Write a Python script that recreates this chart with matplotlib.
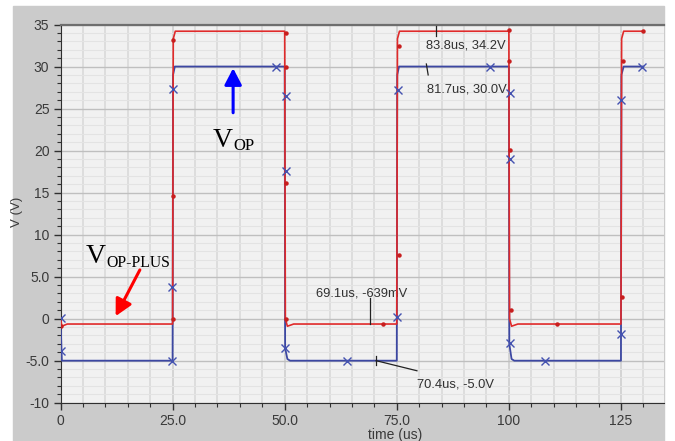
import matplotlib.pyplot as plt
from matplotlib.patches import Rectangle
from matplotlib.ticker import MultipleLocator

plt.rcParams['font.family'] = 'Liberation Sans'

# VOP trace (blue), breakpoints in us / V
t_vop = [0.0, 0.3, 25.0, 25.1, 25.5, 50.0, 50.1, 50.6, 51.2, 75.0, 75.1, 75.5,
         100.0, 100.1, 100.6, 101.2, 125.0, 125.1, 125.6, 130.0]
v_vop = [0.0, -5.0, -5.0, 29.0, 30.0, 30.0, -3.5, -4.8, -5.0, -5.0, 29.0, 30.0,
         30.0, -3.0, -4.8, -5.0, -5.0, 29.0, 30.0, 30.0]

# VOP-PLUS trace (red)
t_plus = [0.0, 0.3, 1.5, 25.0, 25.15, 25.6, 50.0, 50.15, 50.6, 52.0, 75.0, 75.15,
          75.6, 100.0, 100.15, 100.6, 102.0, 125.0, 125.15, 125.6, 130.0]
v_plus = [0.0, -0.9, -0.639, -0.639, 33.3, 34.2, 34.2, 0.0, -0.9, -0.639, -0.639, 33.3,
          34.2, 34.2, 0.0, -0.9, -0.639, -0.639, 33.3, 34.2, 34.2]

# simulator point markers on each trace
mk_vop_t = [0.0, 0.0, 24.9, 24.9, 25.0, 48.1, 50.2, 50.2, 50.1, 63.9, 75.1, 75.3,
            95.8, 100.3, 100.3, 100.2, 108.0, 125.1, 125.1, 129.8]
mk_vop_v = [0.1, -3.8, 3.8, -5.0, 27.3, 30.0, 26.5, 17.6, -3.5, -5.0, 0.2, 27.2,
            30.0, 26.8, 19.0, -2.9, -5.0, -1.8, 26.0, 30.0]
mk_plus_t = [0.2, 25.1, 25.0, 25.1, 50.4, 50.3, 50.3, 50.2, 71.9, 75.4, 75.5,
             100.1, 100.1, 100.3, 100.4, 110.7, 125.3, 125.4, 130.0]
mk_plus_v = [-0.9, 0.0, 14.6, 33.1, 34.0, 29.9, 16.2, 0.0, -0.64, 7.6, 32.5,
             34.3, 30.6, 20.1, 1.0, -0.64, 2.6, 30.6, 34.2]

xticks = [0, 25, 50, 75, 100, 125]
xticklabels = ['0', '25.0', '50.0', '75.0', '100', '125']
yticks = [35, 30, 25, 20, 15, 10, 5, 0, -5, -10]
yticklabels = ['35', '30', '25', '20', '15', '10', '5.0', '0', '-5.0', '-10']

blue = '#3c47a2'
red = '#e02a2a'
ink = '#303030'

fig = plt.figure(figsize=(6.75, 4.41), dpi=100, facecolor='white')
fig.patches.append(Rectangle((13 / 675, 0), 651 / 675, 435 / 441,
                             transform=fig.transFigure, color='#cbcbcb', zorder=-10))
ax = fig.add_axes([60.5 / 675, 1 - 402.7 / 441, 603.5 / 675, 378.2 / 441])
ax.set_facecolor('#f1f1f1')
ax.set_xlim(0, 134.6)
ax.set_ylim(-10, 35)

# grid: verticals every 5us, horizontals every 1V with darker 5V lines
ax.xaxis.set_minor_locator(MultipleLocator(5))
ax.yaxis.set_minor_locator(MultipleLocator(1))
ax.grid(True, which='minor', axis='x', color='#dddddd', lw=1.4)
ax.grid(True, which='major', axis='x', color='#d4d4d4', lw=1.4)
ax.grid(True, which='minor', axis='y', color='#e3e3e3', lw=0.8)
ax.grid(True, which='major', axis='y', color='#bfbfbf', lw=1.0)
ax.set_axisbelow(True)

ax.set_xticks(xticks)
ax.set_xticklabels(xticklabels)
ax.set_yticks(yticks)
ax.set_yticklabels(yticklabels)
ax.tick_params(which='major', length=5, width=1, color=ink, labelsize=10,
               labelcolor='#3a3a3a', pad=3)
ax.tick_params(which='minor', length=3, width=0.8, color=ink)

for s in ['left', 'bottom']:
    ax.spines[s].set_color(ink)
ax.spines['top'].set_color('#6e6e6e')
ax.spines['top'].set_linewidth(1.6)
ax.spines['right'].set_visible(False)

ax.set_xlabel('time (us)', fontsize=10, color='#3a3a3a')
ax.xaxis.set_label_coords(0.554, -0.068)
ax.set_ylabel('V (V)', fontsize=9.5, color='#3a3a3a')
ax.yaxis.set_label_coords(-0.062, 0.505)

ax.plot(t_vop, v_vop, color=blue, lw=1.3, zorder=3)
ax.plot(t_plus, v_plus, color=red, lw=1.2, zorder=4)
ax.plot(mk_vop_t, mk_vop_v, 'x', color='#4452b0', ms=5.5, mew=1.0, zorder=5)
ax.plot(mk_plus_t, mk_plus_v, 'o', color='#c81e1e', ms=2.2, zorder=5)

# cursor readouts
curs = '#222222'
ax.plot([83.8, 83.8], [33.6, 34.8], color=curs, lw=0.9, zorder=6)
ax.text(81.5, 32.5, '83.8us, 34.2V', fontsize=9.3, color=ink, va='center')
ax.plot([81.6, 82.0], [30.3, 29.0], color=curs, lw=0.9, zorder=6)
ax.text(81.7, 27.3, '81.7us, 30.0V', fontsize=9.3, color=ink, va='center')
ax.plot([69.1, 69.1], [-0.639, 2.5], color=curs, lw=0.9, zorder=6)
ax.text(57.0, 3.0, '69.1us, -639mV', fontsize=9.3, color=ink, va='center')
ax.plot([70.4, 70.4], [-4.5, -5.5], color=curs, lw=0.9, zorder=6)
ax.plot([70.4, 79.5], [-5.0, -6.2], color=curs, lw=0.9, zorder=6)
ax.text(79.5, -7.8, '70.4us, -5.0V', fontsize=9.3, color=ink, va='center')

# trace labels with arrows
serif = 'Liberation Serif'
ax.text(33.9, 20.44, 'V', fontsize=20, family=serif, va='baseline')
ax.text(38.55, 20.05, 'OP', fontsize=12, family=serif, va='baseline')
ax.annotate('', xy=(38.5, 29.8), xytext=(38.5, 24.5),
            arrowprops=dict(arrowstyle='-|>,head_length=0.5,head_width=0.26',
                            color='#0000ff', lw=2.2, mutation_scale=20,
                            shrinkA=0, shrinkB=0))
ax.text(5.6, 6.67, 'V', fontsize=20, family=serif, va='baseline')
ax.text(10.3, 6.2, 'OP-PLUS', fontsize=11.3, family=serif, va='baseline')
ax.annotate('', xy=(12.3, 0.3), xytext=(17.7, 5.8),
            arrowprops=dict(arrowstyle='-|>,head_length=0.5,head_width=0.26',
                            color='#ff0000', lw=2.2, mutation_scale=20,
                            shrinkA=0, shrinkB=0))

fig.savefig('out.png', dpi=100, facecolor=fig.get_facecolor())
